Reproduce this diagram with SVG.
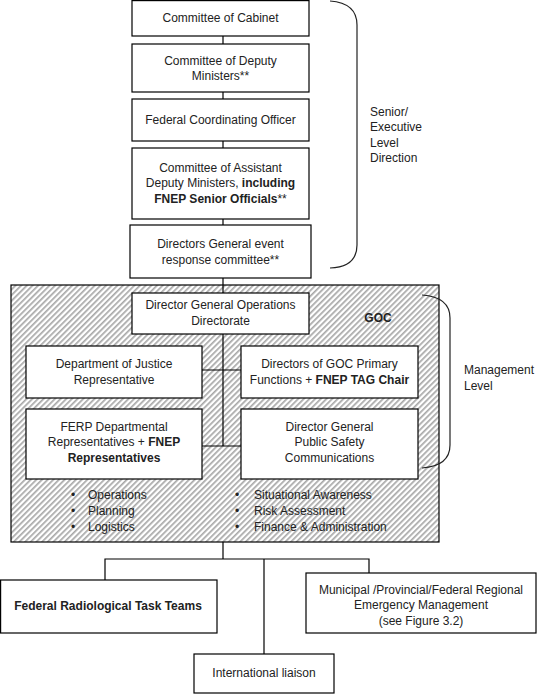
<svg xmlns="http://www.w3.org/2000/svg" width="551" height="694" viewBox="0 0 551 694">
<defs>
<pattern id="hatch" patternUnits="userSpaceOnUse" width="4" height="4" patternTransform="rotate(45)">
<rect width="4" height="4" fill="#ffffff"/>
<rect x="0" y="0" width="1.7" height="4" fill="#a8a8a8"/>
</pattern>
</defs>
<style>
.box{fill:#ffffff;stroke:#000;stroke-width:1.2}
.ln{fill:none;stroke:#000;stroke-width:1.2}
.br{fill:none;stroke:#222;stroke-width:1.2}
text{font-family:"Liberation Sans",Arial,sans-serif;font-size:12px;fill:#222}
.c{text-anchor:middle}
.b{font-weight:bold}
</style>
<rect x="0" y="0" width="551" height="694" fill="#ffffff"/>
<g id="goc-area">
<rect x="11" y="285" width="428" height="257" fill="url(#hatch)" stroke="#000" stroke-width="1.2"/>
</g>
<g id="connectors">
<line class="ln" x1="223" y1="36" x2="223" y2="293"/>
<line class="ln" x1="223" y1="334" x2="223" y2="446"/>
<line class="ln" x1="202" y1="370" x2="241" y2="370"/>
<line class="ln" x1="202" y1="446" x2="241" y2="446"/>
<line class="ln" x1="223" y1="542" x2="223" y2="559"/>
<polyline class="ln" points="105,580 105,559 369,559 369,573"/>
<line class="ln" x1="264" y1="559" x2="264" y2="654"/>
</g>
<g id="brackets">
<path class="br" d="M330,1 Q357,3 357,25 L357,245 Q357,267 330,268"/>
<path class="br" d="M422,295 Q450,297 450,318 L450,445 Q450,466 422,468"/>
</g>
<g id="n1"><rect class="box" x="132" y="0.6" width="177" height="35.4"/>
<text class="c" x="220.5" y="22">Committee of Cabinet</text></g>
<g id="n2"><rect class="box" x="132" y="44" width="177" height="48"/>
<text class="c" x="220.5" y="65">Committee of Deputy</text>
<text class="c" x="220.5" y="80">Ministers**</text></g>
<g id="n3"><rect class="box" x="132" y="99" width="177" height="42"/>
<text class="c" x="220.5" y="124">Federal Coordinating Officer</text></g>
<g id="n4"><rect class="box" x="132" y="148" width="177" height="71"/>
<text class="c" x="220.5" y="172">Committee of Assistant</text>
<text class="c" x="220.5" y="187">Deputy Ministers, <tspan class="b">including</tspan></text>
<text class="c" x="220.5" y="203"><tspan class="b">FNEP Senior Officials</tspan>**</text></g>
<g id="n5"><rect class="box" x="130" y="225" width="181" height="53"/>
<text class="c" x="220.5" y="248">Directors General event</text>
<text class="c" x="220.5" y="264">response committee**</text></g>
<g id="senior-label">
<text x="370" y="116">Senior/</text>
<text x="370" y="131">Executive</text>
<text x="370" y="147">Level</text>
<text x="370" y="162">Direction</text>
</g>
<g id="n6"><rect class="box" x="132" y="293" width="177" height="41"/>
<text class="c" x="220.5" y="309">Director General Operations</text>
<text class="c" x="220.5" y="325">Directorate</text></g>
<g id="goc-label"><text class="c b" x="378" y="322">GOC</text></g>
<g id="n7"><rect class="box" x="26" y="346" width="176" height="52"/>
<text class="c" x="114" y="368">Department of Justice</text>
<text class="c" x="114" y="384">Representative</text></g>
<g id="n8"><rect class="box" x="241" y="346" width="177" height="52"/>
<text class="c" x="329.5" y="368">Directors of GOC Primary</text>
<text class="c" x="329.5" y="384">Functions + <tspan class="b">FNEP TAG Chair</tspan></text></g>
<g id="n9"><rect class="box" x="26" y="409" width="176" height="70"/>
<text class="c" x="114" y="431">FERP Departmental</text>
<text class="c" x="114" y="446">Representatives + <tspan class="b">FNEP</tspan></text>
<text class="c b" x="114" y="462">Representatives</text></g>
<g id="n10"><rect class="box" x="241" y="409" width="177" height="70"/>
<text class="c" x="329.5" y="431">Director General</text>
<text class="c" x="329.5" y="446">Public Safety</text>
<text class="c" x="329.5" y="462">Communications</text></g>
<g id="bullets-left">
<text x="71" y="499">•</text><text x="88" y="499">Operations</text>
<text x="71" y="515">•</text><text x="88" y="515">Planning</text>
<text x="71" y="531">•</text><text x="88" y="531">Logistics</text>
</g>
<g id="bullets-right">
<text x="235" y="499">•</text><text x="254" y="499">Situational Awareness</text>
<text x="235" y="515">•</text><text x="254" y="515">Risk Assessment</text>
<text x="235" y="531">•</text><text x="254" y="531">Finance &amp; Administration</text>
</g>
<g id="management-label">
<text x="464" y="374">Management</text>
<text x="464" y="390">Level</text>
</g>
<g id="n11"><rect class="box" x="0.6" y="580" width="216.4" height="53"/>
<text class="c b" x="108" y="610">Federal Radiological Task Teams</text></g>
<g id="n12"><rect class="box" x="306" y="573" width="230" height="60"/>
<text class="c" x="421" y="594">Municipal /Provincial/Federal Regional</text>
<text class="c" x="421" y="609">Emergency Management</text>
<text class="c" x="421" y="625">(see Figure 3.2)</text></g>
<g id="n13"><rect class="box" x="194" y="654" width="140" height="39"/>
<text class="c" x="264" y="677">International liaison</text></g>
</svg>
